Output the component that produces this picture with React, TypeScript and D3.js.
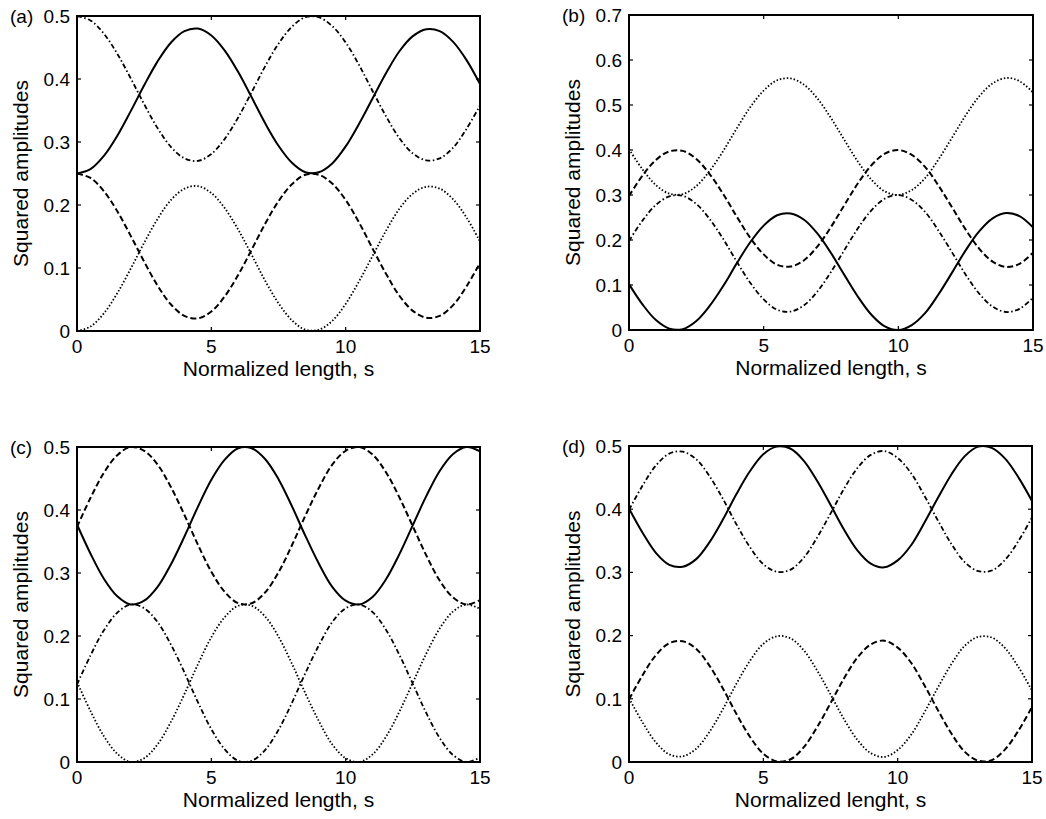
import React from 'react';
import * as d3 from 'd3';

// normalized length grid (s)
const sGrid = [0, 0.5, 1, 1.5, 2, 2.5, 3, 3.5, 4, 4.5, 5, 5.5, 6, 6.5, 7, 7.5, 8, 8.5, 9, 9.5, 10, 10.5, 11, 11.5, 12, 12.5, 13, 13.5, 14, 14.5, 15];

const xTicks = [0, 5, 10, 15];
const yTicksHalf = [0, 0.1, 0.2, 0.3, 0.4, 0.5];
const yTicksSeven = [0, 0.1, 0.2, 0.3, 0.4, 0.5, 0.6, 0.7];

// (a)
const aSolid = [0.25, 0.257, 0.278, 0.31, 0.349, 0.39, 0.428, 0.458, 0.476, 0.48, 0.469, 0.445, 0.411, 0.371, 0.33, 0.294, 0.267, 0.252, 0.252, 0.266, 0.293, 0.329, 0.369, 0.409, 0.444, 0.468, 0.479, 0.476, 0.459, 0.43, 0.392];
const aDashDot = [0.5, 0.493, 0.472, 0.44, 0.401, 0.36, 0.322, 0.292, 0.274, 0.27, 0.281, 0.305, 0.339, 0.379, 0.42, 0.456, 0.483, 0.498, 0.498, 0.484, 0.458, 0.422, 0.381, 0.341, 0.306, 0.282, 0.271, 0.274, 0.291, 0.321, 0.358];
const aDashed = [0.25, 0.243, 0.222, 0.19, 0.151, 0.11, 0.072, 0.042, 0.024, 0.02, 0.031, 0.055, 0.089, 0.129, 0.17, 0.206, 0.233, 0.248, 0.248, 0.234, 0.208, 0.172, 0.131, 0.091, 0.056, 0.032, 0.021, 0.024, 0.041, 0.071, 0.108];
const aDotted = [0, 0.007, 0.028, 0.06, 0.099, 0.14, 0.178, 0.208, 0.226, 0.23, 0.219, 0.195, 0.161, 0.121, 0.08, 0.044, 0.017, 0.002, 0.002, 0.016, 0.043, 0.079, 0.119, 0.159, 0.194, 0.218, 0.229, 0.226, 0.209, 0.18, 0.142];

// (b)
const bSolid = [0.102, 0.057, 0.022, 0.003, 0.002, 0.02, 0.054, 0.098, 0.148, 0.195, 0.232, 0.255, 0.259, 0.245, 0.214, 0.171, 0.122, 0.074, 0.034, 0.008, 0, 0.011, 0.038, 0.08, 0.128, 0.177, 0.219, 0.248, 0.26, 0.253, 0.228];
const bDashed = [0.298, 0.343, 0.378, 0.397, 0.398, 0.38, 0.346, 0.302, 0.252, 0.205, 0.168, 0.145, 0.141, 0.155, 0.186, 0.229, 0.278, 0.326, 0.366, 0.392, 0.4, 0.389, 0.362, 0.32, 0.272, 0.223, 0.181, 0.152, 0.14, 0.147, 0.172];
const bDashDot = [0.198, 0.243, 0.278, 0.297, 0.298, 0.28, 0.246, 0.202, 0.152, 0.105, 0.068, 0.045, 0.041, 0.055, 0.086, 0.129, 0.178, 0.226, 0.266, 0.292, 0.3, 0.289, 0.262, 0.22, 0.172, 0.123, 0.081, 0.052, 0.04, 0.047, 0.072];
const bDotted = [0.402, 0.357, 0.322, 0.303, 0.302, 0.32, 0.354, 0.398, 0.448, 0.495, 0.532, 0.555, 0.559, 0.545, 0.514, 0.471, 0.422, 0.374, 0.334, 0.308, 0.3, 0.311, 0.338, 0.38, 0.428, 0.477, 0.519, 0.548, 0.56, 0.553, 0.528];

// (c)
const cSolid = [0.377, 0.331, 0.291, 0.263, 0.25, 0.256, 0.278, 0.314, 0.358, 0.405, 0.448, 0.48, 0.498, 0.498, 0.481, 0.449, 0.406, 0.359, 0.315, 0.278, 0.256, 0.25, 0.262, 0.29, 0.33, 0.376, 0.422, 0.462, 0.489, 0.5, 0.493];
const cDashed = [0.373, 0.419, 0.459, 0.487, 0.5, 0.494, 0.472, 0.436, 0.392, 0.345, 0.302, 0.27, 0.252, 0.252, 0.269, 0.301, 0.344, 0.391, 0.435, 0.472, 0.494, 0.5, 0.488, 0.46, 0.42, 0.374, 0.328, 0.288, 0.261, 0.25, 0.257];
const cDashDot = [0.123, 0.169, 0.209, 0.237, 0.25, 0.244, 0.222, 0.186, 0.142, 0.095, 0.052, 0.02, 0.002, 0.002, 0.019, 0.051, 0.094, 0.141, 0.185, 0.222, 0.244, 0.25, 0.238, 0.21, 0.17, 0.124, 0.078, 0.038, 0.011, 0, 0.007];
const cDotted = [0.127, 0.081, 0.041, 0.013, 0, 0.006, 0.028, 0.064, 0.108, 0.155, 0.198, 0.23, 0.248, 0.248, 0.231, 0.199, 0.156, 0.109, 0.065, 0.028, 0.006, 0, 0.012, 0.04, 0.08, 0.126, 0.172, 0.212, 0.239, 0.25, 0.243];

// (d)
const dSolid = [0.401, 0.363, 0.331, 0.312, 0.309, 0.321, 0.348, 0.384, 0.424, 0.46, 0.487, 0.499, 0.496, 0.477, 0.445, 0.407, 0.368, 0.335, 0.314, 0.308, 0.319, 0.343, 0.379, 0.418, 0.455, 0.484, 0.499, 0.497, 0.48, 0.45, 0.413];
const dDashDot = [0.399, 0.437, 0.469, 0.488, 0.491, 0.479, 0.452, 0.416, 0.376, 0.34, 0.313, 0.301, 0.304, 0.323, 0.355, 0.393, 0.432, 0.465, 0.486, 0.492, 0.481, 0.457, 0.421, 0.382, 0.345, 0.316, 0.302, 0.303, 0.32, 0.35, 0.387];
const dDashed = [0.099, 0.137, 0.169, 0.188, 0.191, 0.179, 0.152, 0.116, 0.076, 0.04, 0.013, 0.001, 0.004, 0.023, 0.055, 0.093, 0.132, 0.165, 0.186, 0.192, 0.181, 0.157, 0.121, 0.082, 0.045, 0.016, 0.002, 0.003, 0.02, 0.05, 0.087];
const dDotted = [0.101, 0.063, 0.031, 0.012, 0.009, 0.021, 0.048, 0.084, 0.124, 0.16, 0.187, 0.199, 0.196, 0.177, 0.145, 0.107, 0.068, 0.035, 0.014, 0.008, 0.019, 0.043, 0.079, 0.118, 0.155, 0.184, 0.198, 0.197, 0.18, 0.15, 0.113];

const FONT = '"Liberation Sans", Arial, Helvetica, sans-serif';

const lineStyles: Record<string, { dash?: string; width: number }> = {
  solid: { width: 2 },
  dashdot: { dash: '5,2.5,1.5,2.5', width: 1.8 },
  dashed: { dash: '6,3', width: 2 },
  dotted: { dash: '1.5,2', width: 1.8 },
};

const panels = [
  {
    tag: '(a)', left: 77, right: 480, top: 16, bottom: 331, yMax: 0.5, yTicks: yTicksHalf,
    xTitle: 'Normalized length, s',
    series: [['solid', aSolid], ['dashdot', aDashDot], ['dashed', aDashed], ['dotted', aDotted]],
  },
  {
    tag: '(b)', left: 629, right: 1033, top: 15, bottom: 330, yMax: 0.7, yTicks: yTicksSeven,
    xTitle: 'Normalized length, s',
    series: [['solid', bSolid], ['dashdot', bDashDot], ['dashed', bDashed], ['dotted', bDotted]],
  },
  {
    tag: '(c)', left: 77, right: 480, top: 447, bottom: 762, yMax: 0.5, yTicks: yTicksHalf,
    xTitle: 'Normalized length, s',
    series: [['solid', cSolid], ['dashdot', cDashDot], ['dashed', cDashed], ['dotted', cDotted]],
  },
  {
    tag: '(d)', left: 629, right: 1032, top: 446, bottom: 762, yMax: 0.5, yTicks: yTicksHalf,
    xTitle: 'Normalized lenght, s',
    series: [['solid', dSolid], ['dashdot', dDashDot], ['dashed', dDashed], ['dotted', dDotted]],
  },
];

const fmt = (v: number) => (v === 0 ? '0' : d3.format('.1f')(v));

const Panel = ({ p }: { p: any }) => {
  const x = d3.scaleLinear().domain([0, 15]).range([p.left, p.right]);
  const y = d3.scaleLinear().domain([0, p.yMax]).range([p.bottom, p.top]);
  const line = d3
    .line<number>()
    .x((_, i) => x(sGrid[i]))
    .y((d) => y(d))
    .curve(d3.curveCatmullRom.alpha(0.5));
  const tick = 4;

  return (
    <g>
      {p.series.map(([kind, vals]: [string, number[]]) => (
        <path
          key={kind}
          d={line(vals) || ''}
          fill="none"
          stroke="#000"
          strokeWidth={lineStyles[kind].width}
          strokeDasharray={lineStyles[kind].dash}
        />
      ))}
      <rect
        x={p.left}
        y={p.top}
        width={p.right - p.left}
        height={p.bottom - p.top}
        fill="none"
        stroke="#000"
        strokeWidth={2}
      />
      {xTicks.map((t) => (
        <g key={'x' + t}>
          <line x1={x(t)} x2={x(t)} y1={p.bottom} y2={p.bottom - tick} stroke="#000" strokeWidth={1.2} />
          <line x1={x(t)} x2={x(t)} y1={p.top} y2={p.top + tick} stroke="#000" strokeWidth={1.2} />
          <text x={x(t)} y={p.bottom + 22} textAnchor="middle" fontSize={19} fontFamily={FONT}>
            {t}
          </text>
        </g>
      ))}
      {p.yTicks.map((t: number) => (
        <g key={'y' + t}>
          <line x1={p.left} x2={p.left + tick} y1={y(t)} y2={y(t)} stroke="#000" strokeWidth={1.2} />
          <line x1={p.right} x2={p.right - tick} y1={y(t)} y2={y(t)} stroke="#000" strokeWidth={1.2} />
          <text x={p.left - 7} y={y(t)} dy="0.36em" textAnchor="end" fontSize={19} fontFamily={FONT}>
            {fmt(t)}
          </text>
        </g>
      ))}
      <text x={p.left - 67} y={p.top} dy="0.36em" fontSize={19} fontFamily={FONT}>
        {p.tag}
      </text>
      <text
        x={(p.left + p.right) / 2}
        y={p.bottom + 45}
        textAnchor="middle"
        fontSize={21}
        fontFamily={FONT}
      >
        {p.xTitle}
      </text>
      <text
        transform={`translate(${p.left - 49},${(p.top + p.bottom) / 2}) rotate(-90)`}
        textAnchor="middle"
        fontSize={21}
        fontFamily={FONT}
      >
        Squared amplitudes
      </text>
    </g>
  );
};

const App = () => (
  <svg
    width={1046}
    height={819}
    style={{ position: 'absolute', left: 0, top: 0, background: '#fff' }}
  >
    {panels.map((p) => (
      <Panel key={p.tag} p={p} />
    ))}
  </svg>
);

export default App;
